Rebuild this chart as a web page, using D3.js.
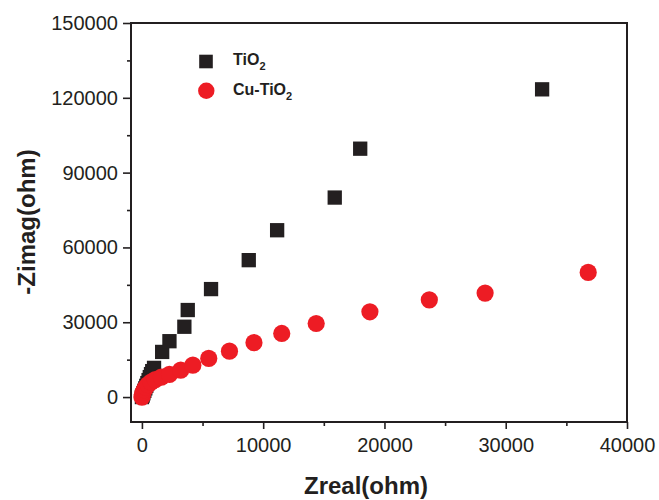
<!DOCTYPE html>
<html>
<head>
<meta charset="utf-8">
<script src="https://cdn.jsdelivr.net/npm/d3@7/dist/d3.min.js"></script>
<style>
  html, body { margin: 0; padding: 0; background: #fff; }
  svg { display: block; }
  text { font-family: "Liberation Sans", Arial, sans-serif; fill: #231f20; }
</style>
</head>
<body>
<svg id="chart" width="659" height="500"></svg>
<script>
// ---- data ----
const tio2X = [0, 60, 120, 200, 280, 360, 450, 550, 650, 750, 850, 1000, 1670, 2270, 3500, 3780, 5700, 8810, 11150, 15900, 18000, 33000];
const tio2Y = [0, 600, 1500, 2500, 3500, 4500, 5600, 6800, 8000, 9200, 10400, 11700, 18100, 22400, 28200, 34900, 43300, 54900, 66900, 80000, 99600, 123400];

const cuX = [0, 40, 100, 200, 330, 500, 750, 1100, 1600, 2270, 3200, 4200, 5510, 7220, 9240, 11530, 14370, 18800, 23700, 28300, 36800];
const cuY = [0, 1000, 2000, 3000, 4000, 5000, 6000, 7000, 8000, 9100, 10800, 12800, 15500, 18400, 21800, 25500, 29500, 34200, 39000, 41700, 50000];

const xMajor = [0, 10000, 20000, 30000, 40000];
const xMinor = [5000, 15000, 25000, 35000];
const yMajor = [0, 30000, 60000, 90000, 120000, 150000];
const yMinor = [15000, 45000, 75000, 105000, 135000];

const seriesNames = ["TiO", "Cu-TiO"];
const colors = ["#231f20", "#ed1c24"];

// ---- layout ----
const L = 131, R = 627, T = 23, B = 422;
const svg = d3.select("#chart");

const x = d3.scaleLinear().domain([-900, 40000]).range([L, R]);
const y = d3.scaleLinear().domain([-10000, 150000]).range([B, T]);

const ink = "#231f20";

// x axis
const gx = svg.append("g").attr("transform", `translate(0,${B})`)
  .call(d3.axisBottom(x).tickValues(xMajor).tickSize(7).tickPadding(9).tickFormat(d3.format("d")));
gx.select(".domain").remove();
gx.selectAll("line").attr("stroke", ink).attr("stroke-width", 1.6);
gx.selectAll("text").attr("font-size", 20).attr("fill", ink);

const gxm = svg.append("g").attr("transform", `translate(0,${B})`)
  .call(d3.axisBottom(x).tickValues(xMinor).tickSize(4).tickFormat(""));
gxm.select(".domain").remove();
gxm.selectAll("line").attr("stroke", ink).attr("stroke-width", 1.6);

// y axis
const gy = svg.append("g").attr("transform", `translate(${L},0)`)
  .call(d3.axisLeft(y).tickValues(yMajor).tickSize(8).tickPadding(5).tickFormat(d3.format("d")));
gy.select(".domain").remove();
gy.selectAll("line").attr("stroke", ink).attr("stroke-width", 1.6);
gy.selectAll("text").attr("font-size", 20).attr("fill", ink);

const gym = svg.append("g").attr("transform", `translate(${L},0)`)
  .call(d3.axisLeft(y).tickValues(yMinor).tickSize(4).tickFormat(""));
gym.select(".domain").remove();
gym.selectAll("line").attr("stroke", ink).attr("stroke-width", 1.6);

// frame
svg.append("rect").attr("x", L).attr("y", T).attr("width", R - L).attr("height", B - T)
  .attr("fill", "none").attr("stroke", ink).attr("stroke-width", 2);

// axis titles
svg.append("text").attr("x", 366).attr("y", 494).attr("text-anchor", "middle")
  .attr("font-size", 24).attr("font-weight", "bold").text("Zreal(ohm)");
svg.append("text").attr("transform", "translate(35,222) rotate(-90)").attr("text-anchor", "middle")
  .attr("font-size", 24).attr("font-weight", "bold").text("-Zimag(ohm)");

// series
const sq = 14.3;
const tio2 = tio2X.map((d, i) => [d, tio2Y[i]]);
const cu = cuX.map((d, i) => [d, cuY[i]]);

svg.append("g").selectAll("rect").data(tio2).join("rect")
  .attr("x", d => x(d[0]) - sq / 2).attr("y", d => y(d[1]) - sq / 2)
  .attr("width", sq).attr("height", sq).attr("fill", colors[0]);

svg.append("g").selectAll("circle").data(cu).join("circle")
  .attr("cx", d => x(d[0])).attr("cy", d => y(d[1])).attr("r", 8.6).attr("fill", colors[1]);

// legend
const lg = svg.append("g");
lg.append("rect").attr("x", 206 - 6.8).attr("y", 61.5 - 6.8).attr("width", 13.6).attr("height", 13.6).attr("fill", colors[0]);
lg.append("circle").attr("cx", 206.3).attr("cy", 90.7).attr("r", 8.2).attr("fill", colors[1]);
const lt = [65, 95];
seriesNames.forEach((n, i) => {
  const t = lg.append("text").attr("x", 233).attr("y", lt[i]).attr("font-size", 16).attr("font-weight", "bold");
  t.append("tspan").text(n);
  t.append("tspan").attr("font-size", 11).attr("dy", 5).text("2");
});
</script>
</body>
</html>
